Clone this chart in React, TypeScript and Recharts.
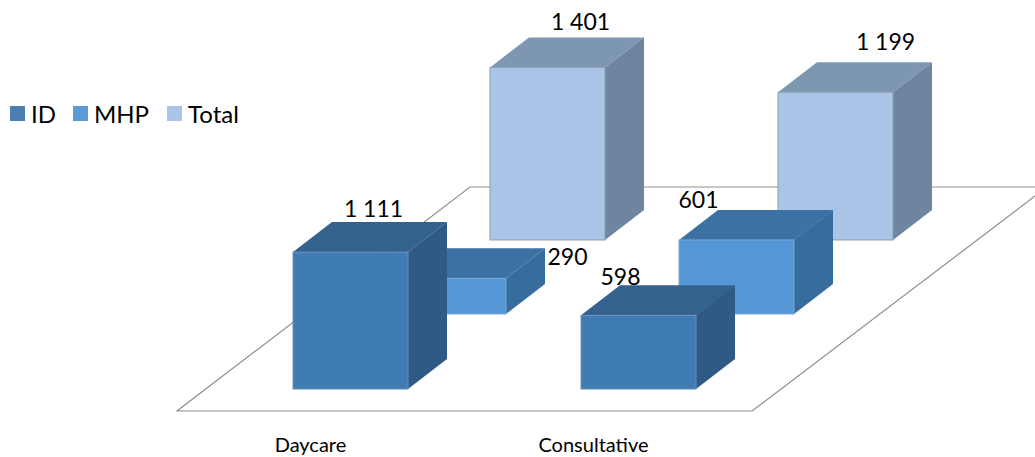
import React from 'react';
import { BarChart, Bar, XAxis, YAxis, Legend, LabelList } from 'recharts';

const categories = ['Daycare', 'Consultative'];
const idValues = [1111, 598];
const mhpValues = [290, 601];
const totalValues = [1401, 1199];

const FONT = 'Lato, Carlito, sans-serif';
const DEPTH_X = 39;
const DEPTH_Y = 30;

// per series colours: front, top, side
const ID_COLORS = { front: '#3f7cb5', top: '#34628f', side: '#2f5a86', edge: '#6f8fb0' };
const MHP_COLORS = { front: '#5496d6', top: '#3b71a3', side: '#376d9c', edge: '#7ea6d0' };
const TOTAL_COLORS = { front: '#a9c4e6', top: '#7d97b3', side: '#6f859f', edge: '#8d9db2' };

// the original labels were dragged around by hand, so each one has its own nudge
const ID_NUDGE = [[23, -44], [-18, -39]];
const MHP_NUDGE = [[119, -22], [-38, -41]];
const TOTAL_NUDGE = [[33, -46], [50, -51]];

const data = categories.map((name, i) => ({
  name,
  ID: idValues[i],
  MHP: mhpValues[i],
  Total: totalValues[i],
}));

const legendItems = [
  { name: 'ID', color: '#4a7fb0', left: 10 },
  { name: 'MHP', color: '#5b9bd5', left: 73 },
  { name: 'Total', color: '#a9c4e4', left: 167 },
];

const formatValue = (v: number) => String(v).replace(/\B(?=(\d{3})+$)/g, ' ');

const box = (c: typeof ID_COLORS) => (props: any) => {
  const { x, y, width, height } = props;
  const r = x + width;
  const b = y + height;
  return (
    <g>
      <polygon points={`${x},${y} ${x + DEPTH_X},${y - DEPTH_Y} ${r + DEPTH_X},${y - DEPTH_Y} ${r},${y}`} fill={c.top} />
      <polygon points={`${r},${y} ${r + DEPTH_X},${y - DEPTH_Y} ${r + DEPTH_X},${b - DEPTH_Y} ${r},${b}`} fill={c.side} />
      <rect x={x} y={y} width={width} height={height} fill={c.front} stroke={c.edge} strokeWidth={1} />
    </g>
  );
};

const valueLabel = (nudge: number[][]) => (props: any) => {
  const { x, y, width, value, index } = props;
  return (
    <text
      x={x + width / 2 + nudge[index][0]}
      y={y + nudge[index][1]}
      textAnchor="middle"
      dominantBaseline="central"
      fontFamily={FONT}
      fontSize={23}
      fill="#000"
    >
      {formatValue(value)}
    </text>
  );
};

const renderLegend = () => (
  <div style={{ position: 'relative', height: 30, fontFamily: FONT, fontSize: 24, color: '#000' }}>
    {legendItems.map((it) => (
      <React.Fragment key={it.name}>
        <span style={{ position: 'absolute', left: it.left, top: 7, width: 15, height: 15, background: it.color }} />
        <span style={{ position: 'absolute', left: it.left + 21, top: 1, lineHeight: '27px' }}>{it.name}</span>
      </React.Fragment>
    ))}
  </div>
);

export default function App() {
  return (
    <div style={{ position: 'absolute', left: 0, top: 0, width: 1035, height: 457, overflow: 'hidden' }}>
      <BarChart width={1035} height={457} data={data} margin={{ top: 0, right: 0, bottom: 0, left: 0 }}>
        {/* floor of the 3D plot */}
        <polygon points="177,411 752,411 1047,187 470,187" fill="#fff" stroke="#8f8f8f" strokeWidth={1.2} />

        <XAxis
          xAxisId="labels"
          dataKey="name"
          height={40}
          padding={{ left: 169, right: 300 }}
          axisLine={false}
          tickLine={false}
          tick={{ fontFamily: FONT, fontSize: 20, fill: '#000' }}
          tickMargin={15}
          interval={0}
        />
        <XAxis xAxisId="id" dataKey="name" hide height={0} padding={{ left: 206, right: 253 }} />
        <XAxis xAxisId="mhp" dataKey="name" hide height={0} padding={{ left: 304, right: 155 }} />
        <XAxis xAxisId="total" dataKey="name" hide height={0} padding={{ left: 403, right: 56 }} />

        {/* same px per unit on each, only the baseline moves back with depth */}
        <YAxis yAxisId="id" hide domain={[-227, 3157]} />
        <YAxis yAxisId="mhp" hide domain={[-836, 2549]} />
        <YAxis yAxisId="total" hide domain={[-1437, 1948]} />

        {/* verticalAlign middle so the legend does not eat plot height */}
        <Legend
          content={renderLegend}
          verticalAlign="middle"
          wrapperStyle={{ position: 'absolute', left: 0, top: 99, width: 300, height: 30, bottom: 'auto' }}
        />

        <Bar dataKey="Total" xAxisId="total" yAxisId="total" barSize={115} shape={box(TOTAL_COLORS)} isAnimationActive={false}>
          <LabelList dataKey="Total" content={valueLabel(TOTAL_NUDGE)} />
        </Bar>
        <Bar dataKey="MHP" xAxisId="mhp" yAxisId="mhp" barSize={115} shape={box(MHP_COLORS)} isAnimationActive={false}>
          <LabelList dataKey="MHP" content={valueLabel(MHP_NUDGE)} />
        </Bar>
        <Bar dataKey="ID" xAxisId="id" yAxisId="id" barSize={115} shape={box(ID_COLORS)} isAnimationActive={false}>
          <LabelList dataKey="ID" content={valueLabel(ID_NUDGE)} />
        </Bar>
      </BarChart>
    </div>
  );
}
